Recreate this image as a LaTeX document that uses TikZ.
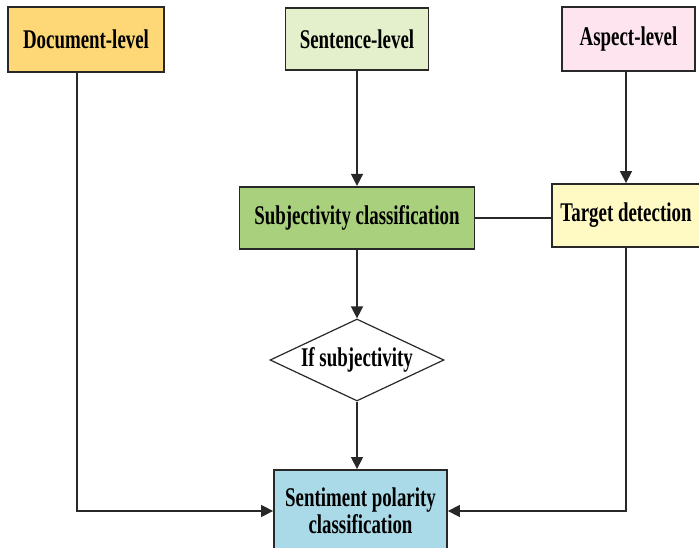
\documentclass[tikz,border=0pt]{standalone}
\usepackage{fontspec}
\setmainfont{Liberation Serif}[FakeStretch=0.70]
\usepackage{tikz}
\usetikzlibrary{shapes.geometric,arrows.meta,positioning,calc}
\definecolor{docfill}{RGB}{254,216,118}
\definecolor{sentfill}{RGB}{228,240,204}
\definecolor{aspfill}{RGB}{253,228,238}
\definecolor{subjfill}{RGB}{169,208,124}
\definecolor{targfill}{RGB}{255,250,196}
\definecolor{polfill}{RGB}{170,218,232}
\definecolor{edge}{RGB}{40,40,40}

\begin{document}
\begin{tikzpicture}[x=1pt,y=-1pt,font=\bfseries\fontsize{27}{27}\selectfont,
  b/.style={draw=edge,line width=1.8pt,inner sep=0pt,align=center},
  a/.style={-{Triangle[length=12pt,width=12pt]},line width=1.5pt,color=edge}]
  \useasboundingbox (0,0) rectangle (699,548);
  \node[b,fill=docfill,minimum width=156pt,minimum height=65pt] (doc) at (86,39.5) {Document-level};
  \node[b,fill=sentfill,minimum width=143pt,minimum height=62pt] (sent) at (357,39) {Sentence-level};
  \node[b,fill=aspfill,minimum width=133pt,minimum height=64pt] (asp) at (628.5,39) {Aspect-level};
  \node[b,fill=subjfill,minimum width=235pt,minimum height=62pt,below=115pt of sent] (subj) {Subjectivity classification};
  \node[b,fill=targfill,minimum width=148pt,minimum height=63pt] (targ) at (626,215.5) {Target detection};
  \node[b,fill=white,diamond,aspect=2.12,minimum width=174pt,minimum height=82pt,line width=1.2pt] (ifs) at (357,360) {If subjectivity};
  \node[b,fill=polfill,minimum width=173pt,minimum height=82pt] (pol) at (360.5,511) {Sentiment polarity\\classification};
  \draw[a] (sent) -- (subj);
  \draw[a] (asp.south -| targ.north) -- (targ.north);
  \draw[line width=1.5pt,color=edge] (subj.east) -- (subj.east -| targ.west);
  \draw[a] (subj) -- (ifs);
  \draw[a] (ifs.south) -- (ifs.south |- pol.north);
  \draw[a] ([xshift=-9pt]doc.south) |- (pol.west);
  \draw[a] (targ.south) |- (pol.east);
\end{tikzpicture}
\end{document}
